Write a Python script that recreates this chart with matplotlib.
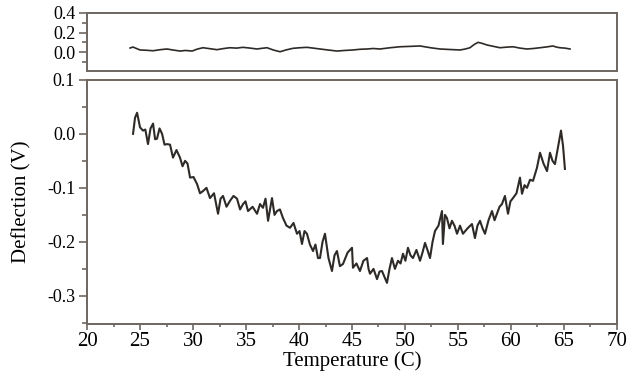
import matplotlib.pyplot as plt
from matplotlib.ticker import MultipleLocator

plt.rcParams["font.family"] = ["Liberation Serif", "DejaVu Serif"]

# top panel (reference channel)
top_temp = [24.06, 24.34, 24.62, 25.00, 25.60, 26.23, 26.90, 27.55, 28.15, 28.77,
            29.30, 29.91, 30.40, 30.94, 31.60, 32.26, 32.90, 33.49, 34.10, 34.72,
            35.40, 36.04, 36.50, 36.98, 37.60, 38.21, 38.80, 39.43, 40.10, 40.75,
            41.35, 41.98, 42.80, 43.58, 44.30, 45.09, 45.75, 46.42, 47.00, 47.64,
            48.60, 49.53, 50.50, 51.42, 52.40, 53.30, 54.20, 55.19, 55.66, 56.13,
            56.50, 56.89, 57.30, 57.74, 58.35, 58.96, 59.60, 60.19, 60.85, 61.51,
            62.10, 62.74, 63.35, 63.96, 64.30, 64.62, 65.10, 65.57]
top_defl = [0.041, 0.051, 0.038, 0.021, 0.018, 0.013, 0.024, 0.031, 0.020, 0.010,
            0.016, 0.010, 0.030, 0.044, 0.034, 0.024, 0.036, 0.044, 0.040, 0.048,
            0.040, 0.031, 0.038, 0.044, 0.020, 0.003, 0.022, 0.038, 0.044, 0.048,
            0.040, 0.031, 0.020, 0.010, 0.016, 0.021, 0.028, 0.031, 0.036, 0.031,
            0.044, 0.054, 0.058, 0.062, 0.044, 0.031, 0.026, 0.021, 0.030, 0.044,
            0.075, 0.099, 0.088, 0.072, 0.058, 0.044, 0.050, 0.054, 0.040, 0.031,
            0.036, 0.044, 0.052, 0.062, 0.050, 0.044, 0.040, 0.031]

# bottom panel (deflection vs temperature)
temp = [24.34, 24.53, 24.72, 25.00, 25.28, 25.50, 25.75, 25.99, 26.23, 26.42,
        26.60, 26.84, 27.08, 27.31, 27.55, 27.83, 28.11, 28.44, 28.77, 29.01,
        29.25, 29.48, 29.72, 30.05, 30.38, 30.66, 30.94, 31.27, 31.60, 31.98,
        32.36, 32.60, 32.83, 33.16, 33.49, 33.82, 34.15, 34.44, 34.72, 34.95,
        35.19, 35.62, 36.04, 36.32, 36.60, 36.84, 37.08, 37.27, 37.45, 37.69,
        37.92, 38.20, 38.49, 38.82, 39.15, 39.48, 39.81, 40.05, 40.28, 40.52,
        40.75, 41.03, 41.32, 41.55, 41.79, 41.98, 42.22, 42.45, 42.78, 43.11,
        43.35, 43.58, 43.86, 44.15, 44.58, 45.00, 45.09, 45.42, 45.75, 46.08,
        46.42, 46.56, 46.70, 47.03, 47.36, 47.60, 47.83, 48.06, 48.30, 48.54,
        48.77, 49.05, 49.34, 49.58, 49.81, 50.04, 50.28, 50.52, 50.75, 51.08,
        51.42, 51.65, 51.89, 52.12, 52.36, 52.60, 52.83, 53.16, 53.49, 53.58,
        53.77, 53.96, 54.20, 54.43, 54.67, 54.91, 55.19, 55.47, 55.90, 56.32,
        56.60, 56.84, 57.08, 57.32, 57.55, 57.88, 58.21, 58.45, 58.68, 58.92,
        59.15, 59.43, 59.72, 59.95, 60.19, 60.52, 60.85, 61.04, 61.28, 61.51,
        61.80, 62.08, 62.45, 62.74, 63.07, 63.40, 63.68, 63.92, 64.15, 64.43,
        64.72, 64.91, 65.09]
defl = [0.000, 0.030, 0.039, 0.012, 0.006, 0.008, -0.019, 0.010, 0.019, -0.010,
        -0.009, 0.010, 0.000, -0.020, -0.019, -0.020, -0.044, -0.030, -0.044, -0.060,
        -0.050, -0.055, -0.081, -0.080, -0.093, -0.110, -0.106, -0.100, -0.119, -0.110,
        -0.148, -0.120, -0.115, -0.135, -0.124, -0.115, -0.120, -0.140, -0.130, -0.125,
        -0.143, -0.135, -0.148, -0.130, -0.137, -0.120, -0.161, -0.140, -0.119, -0.150,
        -0.143, -0.140, -0.156, -0.170, -0.174, -0.165, -0.185, -0.180, -0.204, -0.180,
        -0.185, -0.205, -0.217, -0.205, -0.230, -0.230, -0.200, -0.185, -0.230, -0.254,
        -0.225, -0.217, -0.245, -0.241, -0.220, -0.211, -0.248, -0.240, -0.254, -0.235,
        -0.230, -0.250, -0.259, -0.250, -0.269, -0.255, -0.254, -0.265, -0.276, -0.250,
        -0.230, -0.250, -0.235, -0.240, -0.222, -0.235, -0.211, -0.225, -0.230, -0.215,
        -0.235, -0.220, -0.202, -0.215, -0.230, -0.200, -0.180, -0.170, -0.143, -0.204,
        -0.150, -0.156, -0.175, -0.161, -0.170, -0.185, -0.170, -0.185, -0.175, -0.167,
        -0.193, -0.170, -0.161, -0.175, -0.185, -0.160, -0.143, -0.160, -0.148, -0.135,
        -0.130, -0.115, -0.148, -0.125, -0.119, -0.110, -0.081, -0.111, -0.095, -0.100,
        -0.085, -0.087, -0.063, -0.035, -0.055, -0.069, -0.035, -0.050, -0.056, -0.026,
        0.006, -0.022, -0.065]

spine_color = "#6e6660"
line_color = "#2e2a27"

fig = plt.figure(figsize=(6.4, 3.82), dpi=100)
ax_top = fig.add_axes([0.136, 0.814, 0.828, 0.152])
ax = fig.add_axes([0.136, 0.152, 0.828, 0.639])

ax_top.plot(top_temp, top_defl, color=line_color, lw=1.2)
ax.plot(temp, defl, color=line_color, lw=1.5)

for a in (ax_top, ax):
    a.set_xlim(20, 70)
    for s in a.spines.values():
        s.set_color(spine_color)
        s.set_linewidth(1.4)
    a.tick_params(axis="both", which="both", direction="out", color=spine_color,
                  width=1.2)
    a.tick_params(axis="y", which="major", length=5.5, labelsize=13, pad=3)
    a.tick_params(axis="y", which="minor", length=3.5)
    a.tick_params(axis="x", which="major", length=4, labelsize=15, pad=2)
    a.tick_params(axis="x", which="minor", length=2.5)

ax_top.set_ylim(-0.195, 0.4)
ax_top.yaxis.set_minor_locator(MultipleLocator(0.1))
ax_top.set_yticks([0.0, 0.2, 0.4])
ax_top.set_yticklabels(["0.0", "0.2", "0.4"])
ax_top.set_xticks([])

ax.set_ylim(-0.352, 0.1)
ax.set_yticks([0.1, 0.0, -0.1, -0.2, -0.3])
ax.set_yticklabels(["0.1", "0.0", "-0.1", "-0.2", "-0.3"])
ax.yaxis.set_minor_locator(MultipleLocator(0.05))
ax.xaxis.set_major_locator(MultipleLocator(5))
ax.xaxis.set_minor_locator(MultipleLocator(2.5))

ax.set_xlabel("Temperature (C)", fontsize=15, labelpad=0)
ax.set_ylabel("Deflection (V)", fontsize=15, labelpad=11)

fig.savefig("out.png", dpi=100)
